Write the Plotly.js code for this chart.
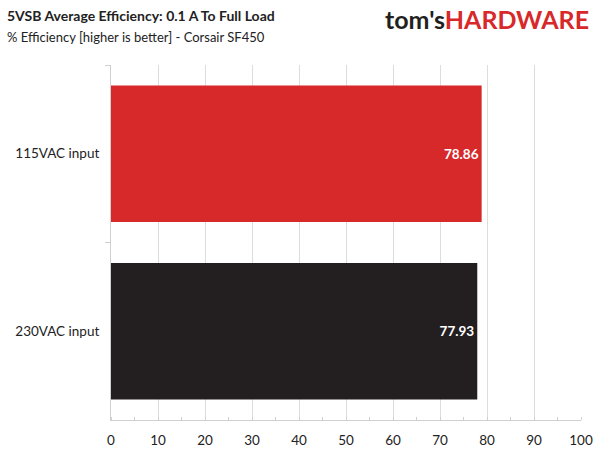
<!DOCTYPE html>
<html><head><meta charset="utf-8">
<script src="https://cdn.plot.ly/plotly-3.0.1.min.js"></script>
<style>html,body{margin:0;padding:0;background:#fff}#chart{width:600px;height:450px}</style>
</head><body><div id="chart"></div>
<script>
const categories = ["115VAC input", "230VAC input"];
const values = [78.86, 77.93];
const barColors = ["#d7282a", "#231f20"];
const xTicks = [0,10,20,30,40,50,60,70,80,90,100];

const FONT = "Lato, 'Open Sans', sans-serif";
const trace = {
  type: "bar", orientation: "h",
  y: categories, x: values,
  marker: {color: barColors, line: {width: 0}},
  text: values.map(v => v.toFixed(2)),
  textposition: "inside", insidetextanchor: "end",
  textfont: {color: "#ffffff", size: 13.5, family: FONT, weight: "bold"},
  hoverinfo: "none", cliponaxis: false
};
const layout = {
  width: 600, height: 450,
  margin: {l: 111, r: 19, t: 65, b: 30},
  paper_bgcolor: "#fff", plot_bgcolor: "#fff",
  bargap: 0.23,
  showlegend: false,
  font: {family: FONT, color: "#222"},
  xaxis: {
    range: [0, 100], tickvals: xTicks, ticktext: xTicks.map(String),
    showgrid: true, gridcolor: "#dcdcdc", gridwidth: 1,
    showline: true, linecolor: "#d0d0d0", linewidth: 1,
    ticks: "", zeroline: false,
    tickfont: {size: 13.5, color: "#222", family: FONT},
    ticklabelstandoff: 8,
    minor: {dtick: 5, tick0: 0, ticks: "inside", ticklen: 3, tickcolor: "#d0d0d0", showgrid: false},
    fixedrange: true
  },
  yaxis: {
    type: "category", autorange: "reversed",
    tickson: "boundaries", ticks: "outside", ticklen: 5, tickcolor: "#d0d0d0",
    showline: true, linecolor: "#d0d0d0", linewidth: 1,
    showgrid: false,
    tickfont: {size: 13.5, color: "#222", family: FONT},
    ticklabelstandoff: 8,
    fixedrange: true
  },
  annotations: [
    {xref: "paper", yref: "paper", x: -106/470, y: 1 + (65-16)/354, xanchor: "left", yanchor: "middle",
     text: "<b>5VSB Average Efficiency: 0.1 A To Full Load</b>", showarrow: false,
     font: {size: 14, color: "#222", family: FONT}},
    {xref: "paper", yref: "paper", x: -106/470, y: 1 + (65-37)/354, xanchor: "left", yanchor: "middle",
     text: "% Efficiency [higher is better] - Corsair SF450", showarrow: false,
     font: {size: 13, color: "#222", family: FONT}},
    {xref: "paper", yref: "paper", x: 1 + 10/470, y: 1 + (65-19)/354, xanchor: "right", yanchor: "middle",
     text: "<b><span style='color:#231f20'>tom's</span><span style='color:#d7282a'>HARDWARE</span></b>",
     showarrow: false, font: {size: 25, family: FONT}}
  ]
};
Plotly.newPlot("chart", [trace], layout, {staticPlot: true, displayModeBar: false});
</script></body></html>
